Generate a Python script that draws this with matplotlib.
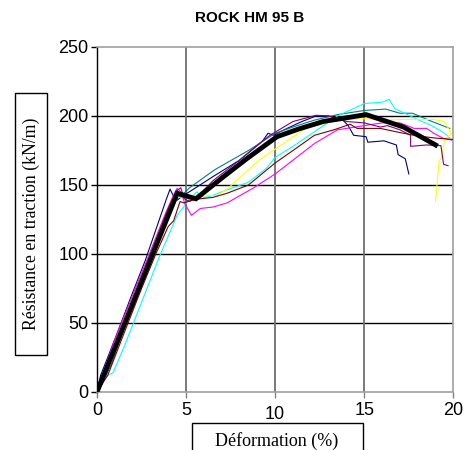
import matplotlib
matplotlib.use("Agg")
import matplotlib.pyplot as plt
import matplotlib.transforms as mtransforms
from matplotlib.patches import Rectangle

# strain (%) / tensile strength (kN/m), one list pair per test
navy_x = [0, 0.2, 0.6, 1.2, 2, 2.7, 3.5, 3.9, 4.1, 4.25, 4.5, 4.8, 5.3, 6.5, 8, 9.3, 9.6, 9.9,
          10.5, 11.5, 12.3, 13.0, 13.8, 14.1, 14.4, 15.1, 15.2, 16.1, 16.8, 16.9, 17.3, 17.5]
navy_y = [0, 12, 25, 45, 72, 95, 125, 140, 147, 143, 139, 142, 146, 156, 168, 182, 187.5, 186,
          190, 196, 200, 200, 197, 193, 186, 185, 181, 182, 179, 172, 169, 158]

teal_x = [0, 0.3, 0.8, 1.5, 2.5, 3.5, 4.3, 4.8, 5.2, 6.6, 8.5, 10, 11, 12.2, 13.5, 15, 16.2,
          17, 17.7, 18.8, 19.8]
teal_y = [0, 6, 20, 45, 82, 116, 138, 143, 148, 161, 175, 187.5, 192, 197, 201, 204, 205,
          202, 202, 196, 191]

cyan_x = [0, 0.3, 0.6, 0.9, 1.5, 2.5, 3.5, 4.5, 5.2, 5.6, 6.0, 6.4, 7.2, 8.5, 9.5, 10, 11,
          12.2, 13.5, 15, 16.0, 16.4, 16.7, 17.9, 18.7, 19.4, 19.8]
cyan_y = [0, 8, 12, 14, 32, 65, 98, 128, 140, 145, 141, 142, 146, 152, 162, 170, 178,
          188.5, 200, 209, 210, 212, 205.5, 198, 193.5, 188.5, 184]

yellow_x = [0, 0.3, 1, 2, 3, 3.8, 4.2, 4.6, 5, 6, 6.7, 7.3, 9.1, 10, 11.7, 13.5, 15, 16,
            17.3, 18.9, 19.5, 19.9, 19.5, 19.35, 19.2, 19.1, 19.0]
yellow_y = [0, 10, 35, 68, 102, 128, 140, 141, 142, 143, 142, 147, 168, 176, 191, 197, 198,
            197, 197.5, 197.5, 196, 187, 183, 170, 167.5, 153, 138]

magenta_x = [0, 0.3, 1, 2, 3, 3.8, 4.3, 4.5, 4.7, 4.95, 5.3, 5.6, 5.8, 6.5, 7.3, 8.8, 10, 11,
             12.2, 13.5, 15, 16, 17, 17.8, 18.5, 18.9, 19.4, 19.9]
magenta_y = [0, 12, 38, 70, 102, 128, 143, 147.5, 145, 136, 128, 131, 133, 134, 137, 148, 158,
             168, 180, 190, 193, 195, 195, 191, 191, 187.5, 184, 182.5]

purple_x = [0, 0.3, 1, 2, 3, 4, 4.5, 4.7, 4.9, 5.2, 5.6, 6.5, 8, 9.7, 11, 12.3, 13, 14, 15,
            15.9, 16.3, 17.0, 17.6, 17.6, 18.5, 19.3, 19.45, 19.7]
purple_y = [0, 10, 33, 66, 100, 133, 146, 148, 140, 138, 141, 153, 168, 186, 196, 200.5, 200,
            196, 195, 192, 193, 190, 186, 178, 179, 178.5, 165, 164]

maroon_x = [0, 0.6, 1.5, 2.5, 3.3, 4.0, 4.3, 4.66, 4.9, 5.3, 5.8, 6.5, 7.3, 8.5, 10, 11, 12.2,
            13.3, 14.2, 14.6, 15.9, 17, 18, 19, 20]
maroon_y = [0, 12, 42, 75, 100, 120, 124, 138, 137, 139, 140, 141, 144, 150, 166, 175, 186,
            190, 194, 191, 191, 188, 185.5, 184, 183]

mean_x = [0, 4.5, 5.55, 7.1, 8.4, 10.1, 11.3, 12.7, 15.1, 17.2, 19.0]
mean_y = [0, 144, 140, 156, 169, 185, 190.5, 196, 201, 192, 179]

series = [
    (navy_x, navy_y, "#000080"),
    (teal_x, teal_y, "#008080"),
    (cyan_x, cyan_y, "#00FFFF"),
    (yellow_x, yellow_y, "#FFFF00"),
    (magenta_x, magenta_y, "#FF00FF"),
    (purple_x, purple_y, "#800080"),
    (maroon_x, maroon_y, "#800000"),
]

fig = plt.figure(figsize=(4.65, 4.5), dpi=100)
ax = fig.add_axes([0.2086, 0.1289, 0.7664, 0.7667])

for xs, ys, c in series:
    ax.plot(xs, ys, color=c, lw=0.8, zorder=3)
ax.plot(mean_x, mean_y, color="black", lw=3.5, solid_joinstyle="miter", zorder=4)

ax.set_xlim(0, 20)
ax.set_ylim(0, 250)
ax.set_xticks([0, 5, 10, 15, 20])
ax.set_yticks([0, 50, 100, 150, 200, 250])

# gridlines: black horizontal, grey vertical
for v in [50, 100, 150, 200]:
    ax.axhline(v, color="black", lw=1.0, zorder=1)
for v in [5, 10, 15]:
    ax.axvline(v, color="#707070", lw=1.3, zorder=1)

for s in ["top", "right", "bottom"]:
    ax.spines[s].set_color("#a0a0a0")
    ax.spines[s].set_linewidth(1.2)
ax.spines["left"].set_color("black")
ax.spines["left"].set_linewidth(1.0)

ax.tick_params(axis="y", direction="out", length=4, width=1, color="black",
               labelsize=13, pad=2)
ax.tick_params(axis="x", direction="out", length=4, width=1, color="#808080",
               labelsize=13, pad=3)
for lab in ax.get_xticklabels() + ax.get_yticklabels():
    lab.set_family("Liberation Sans")

# the "10" label sits a bit lower in the reference
lab10 = ax.get_xticklabels()[2]
lab10.set_transform(lab10.get_transform() +
                    mtransforms.ScaledTranslation(0, -3 / 72, fig.dpi_scale_trans))

fig.text(250 / 465, 1 - 18 / 450, "ROCK HM 95 B", ha="center", va="center",
         family="Liberation Sans", weight="bold", fontsize=11)

# boxed axis titles
fig.add_artist(Rectangle((15 / 465, 1 - 355 / 450), 32 / 465, 262 / 450,
                         transform=fig.transFigure, facecolor="white",
                         edgecolor="black", lw=1.0))
fig.text(31 / 465, 1 - 224 / 450, "Résistance en traction (kN/m)", rotation=90,
         ha="center", va="center", family="Liberation Serif", fontsize=12.8)

fig.add_artist(Rectangle((192 / 465, -0.05), 171 / 465, 0.05 + 27 / 450,
                         transform=fig.transFigure, facecolor="white",
                         edgecolor="black", lw=1.0))
fig.text(277 / 465, 1 - 441 / 450, "Déformation (%)", ha="center", va="center",
         family="Liberation Serif", fontsize=13)

fig.savefig("out.png", dpi=100)
